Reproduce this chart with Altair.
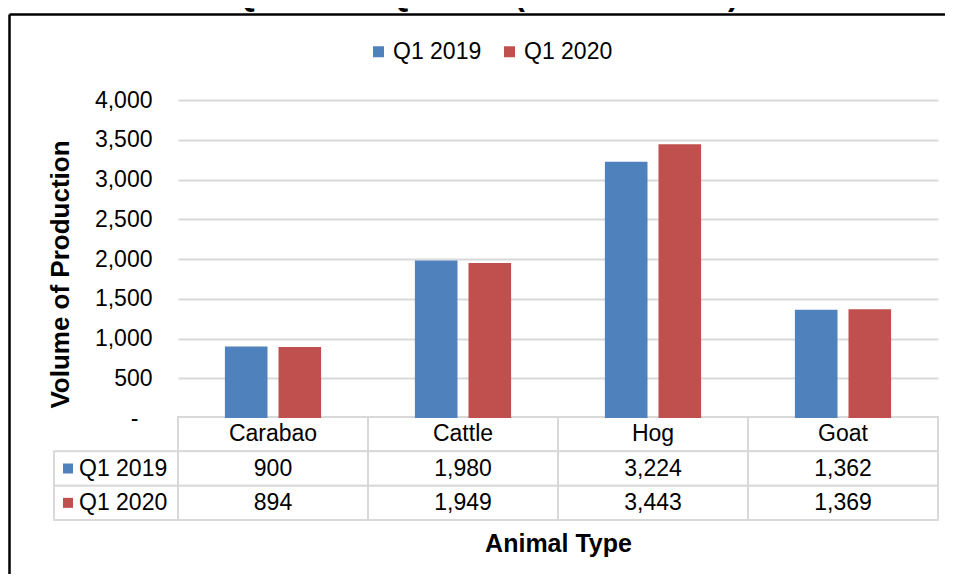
import altair as alt
import pandas as pd

# ---- data ----
categories = ["Carabao", "Cattle", "Hog", "Goat"]
series = ["Q1 2019", "Q1 2020"]
values_2019 = [900, 1980, 3224, 1362]
values_2020 = [894, 1949, 3443, 1369]
colors = ["#4F81BD", "#C0504D"]
y_ticks = [0, 500, 1000, 1500, 2000, 2500, 3000, 3500, 4000]
title_text = "Q1 2019 \u2013 Q1 2020 (in metric tons)"

# ---- tables built from the arrays ----
bars_df = pd.DataFrame(
    [{"cat": c, "series": series[0], "value": v} for c, v in zip(categories, values_2019)]
    + [{"cat": c, "series": series[1], "value": v} for c, v in zip(categories, values_2020)]
)
rows = ["hdr"] + series
table_df = pd.DataFrame(
    [{"cat": c, "row": "hdr", "label": c} for c in categories]
    + [{"cat": r["cat"], "row": r["series"], "label": f"{r['value']:,}"} for _, r in bars_df.iterrows()]
)
key_df = pd.DataFrame({"k": ["key"] * len(series), "row": series, "series": series})
frame_df = pd.DataFrame({"fx": [0, 1], "fy": [0, 1]})

W, H = 936, 560
FONT = "Liberation Sans"

x_cat = alt.Scale(domain=categories, range=[169, 929], paddingInner=0, paddingOuter=0)
y_row = alt.Scale(domain=rows, range=[403, 506], paddingInner=0, paddingOuter=0)
x_key = alt.Scale(domain=["key"], range=[45, 169], paddingInner=0, paddingOuter=0)
color_scale = alt.Scale(domain=series, range=colors)

# frame (top & left border lines drawn as axis domains)
frame = alt.Chart(frame_df).mark_point(opacity=0).encode(
    x=alt.X("fx:Q", scale=alt.Scale(domain=[0, 1], range=[0, W], nice=False, zero=False),
            axis=alt.Axis(orient="top", offset=0, domainColor="black", domainWidth=2.5,
                          labels=False, ticks=False, grid=False, title=None)),
    y=alt.Y("fy:Q", scale=alt.Scale(domain=[0, 1], range=[0, H], nice=False, zero=False),
            axis=alt.Axis(orient="left", offset=0, domainColor="black", domainWidth=2.5,
                          labels=False, ticks=False, grid=False, title=None)),
)

# table cells
cells = alt.Chart(table_df).mark_rect(fill="white", stroke="#D9D9D9", strokeWidth=2).encode(
    x=alt.X("cat:N", scale=x_cat,
            axis=alt.Axis(orient="bottom", offset=-43, labels=False, ticks=False, domain=False,
                          grid=False, title="Animal Type", titleFontSize=25, titleFontWeight="bold",
                          titleColor="black", titlePadding=0)),
    y=alt.Y("row:N", scale=y_row, axis=None),
)
cell_text = alt.Chart(table_df).mark_text(fontSize=23, color="black", baseline="middle").encode(
    x=alt.X("cat:N", scale=x_cat, axis=None),
    y=alt.Y("row:N", scale=y_row, axis=None),
    text="label:N",
)

# key column
key_cells = alt.Chart(key_df).mark_rect(fill="white", stroke="#D9D9D9", strokeWidth=2).encode(
    x=alt.X("k:N", scale=x_key, axis=None),
    y=alt.Y("row:N", scale=y_row, axis=None),
)
key_squares = alt.Chart(key_df).mark_square(size=100, opacity=1, xOffset=-48).encode(
    x=alt.X("k:N", scale=x_key, axis=None),
    y=alt.Y("row:N", scale=y_row, axis=None),
    color=alt.Color("series:N", scale=color_scale, legend=None),
)
key_text = alt.Chart(key_df).mark_text(fontSize=23, color="black", align="left", baseline="middle",
                                       dx=-37).encode(
    x=alt.X("k:N", scale=x_key, axis=None),
    y=alt.Y("row:N", scale=y_row, axis=None),
    text="series:N",
)

# bars
bars = alt.Chart(bars_df).mark_bar().encode(
    x=alt.X("cat:N", scale=x_cat, axis=None, sort=categories),
    xOffset=alt.XOffset("series:N", scale=alt.Scale(domain=series, paddingInner=0.205, paddingOuter=0.875)),
    y=alt.Y("value:Q", scale=alt.Scale(domain=[0, 4000], range=[404, 86], nice=False),
            axis=alt.Axis(orient="left", offset=-169, values=y_ticks,
                          labelExpr="datum.value == 0 ? '-' : format(datum.value, ',')",
                          labelFontSize=23, labelColor="black",
                          labelPadding={"condition": {"test": "datum.value === 0", "value": 40},
                                        "value": 26},
                          ticks=False, tickSize=0, domain=False,
                          grid=True, gridColor="#D9D9D9", gridWidth=2,
                          title="Volume of Production", titleFontSize=26, titleFontWeight="bold",
                          titleColor="black", titleX=-110, titleY=260, titleAngle=270,
                          titleBaseline="alphabetic", titleAlign="center")),
    color=alt.Color("series:N", scale=color_scale,
                    legend=alt.Legend(orient="none", legendX=358, legendY=26, direction="horizontal",
                                      title=None, symbolType="square", symbolSize=121,
                                      symbolStrokeWidth=0, labelFontSize=23, labelColor="black",
                                      labelOffset=3, columnPadding=16)),
)

chart = alt.layer(
    frame, cells, cell_text, key_cells, key_squares, key_text, bars
).resolve_scale(
    x="independent", y="independent", color="independent"
).properties(
    width=W, height=H,
    autosize=alt.AutoSizeParams(type="none"),
    padding={"left": 1, "top": 6, "right": 0, "bottom": 0},
    title=alt.TitleParams(title_text, fontSize=31, fontWeight="bold", anchor="middle",
                          frame="group", dx=9, dy=1, offset=0, color="black"),
).configure(
    font=FONT,
).configure_view(
    stroke=None,
)

chart.save("out.html", embed_options={"renderer": "svg", "actions": False})
